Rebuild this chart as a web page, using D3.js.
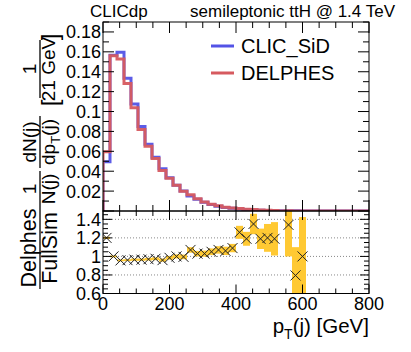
<!DOCTYPE html>
<html><head><meta charset="utf-8">
<script src="https://cdn.jsdelivr.net/npm/d3@7"></script>
<style>
html,body{margin:0;padding:0;background:#fff;}
svg{display:block;font-family:"Liberation Sans",Arial,Helvetica,sans-serif;}
</style></head>
<body>
<svg id="c" width="411" height="352"></svg>
<script>
// ---- data ----
const binEdgesMin = 0, binEdgesMax = 800, nBins = 38;
const sid = [0.0495,0.1565,0.1595,0.1335,0.1075,0.0850,0.0670,0.0540,0.0425,0.0335,
  0.0258,0.0200,0.0152,0.0118,0.0088,0.0066,0.0049,0.0036,0.0027,0.0020,
  0.0015,0.0011,0.0008,0.0006,0.00045,0.0003,0.0002,0.00015,0.0001,0,
  0,0,0,0,0,0,0,0];
const delphes = [0.0595,0.1560,0.1527,0.1282,0.1037,0.0820,0.0650,0.0527,0.0408,0.0330,
  0.0258,0.0199,0.0163,0.0122,0.0091,0.0069,0.0052,0.0038,0.0029,0.0025,
  0.0018,0.0015,0.00095,0.0007,0.00054,0,0.00027,0.00012,0.0001,0,
  0,0,0,0,0,0,0,0];
const ratio = [1.20,1.00,0.957,0.96,0.965,0.965,0.97,0.975,0.96,0.985,
  1.00,0.995,1.07,1.03,1.03,1.05,1.07,1.06,1.09,1.26,
  1.19,1.35,1.19,1.20,1.19,null,1.34,0.795,1.00,null,
  null,null,null,null,null,null,null,null];
const ratioErr = [0.012,0.01,0.01,0.01,0.012,0.012,0.014,0.015,0.017,0.02,
  0.022,0.025,0.03,0.03,0.033,0.036,0.04,0.045,0.045,0.07,
  0.075,0.11,0.11,0.15,0.18,null,0.34,0.305,0.425,null,
  null,null,null,null,null,null,null,null];
const xTicksMajor = [0,200,400,600,800];
const yTopTicks = [0.02,0.04,0.06,0.08,0.1,0.12,0.14,0.16,0.18];
const yTopTickLabels = ["0.02","0.04","0.06","0.08","0.1","0.12","0.14","0.16","0.18"];
const yRatioTicks = [0.6,0.8,1.0,1.2,1.4];
const yRatioTickLabels = ["0.6","0.8","1","1.2","1.4"];
const seriesNames = ["CLIC_SiD","DELPHES"];
const seriesColors = ["#5353e6","#d65a5f"];

// ---- layout ----
const L = 103, R = 369, T = 22, M = 211, B = 293.5;
const svg = d3.select("#c");
const x = d3.scaleLinear().domain([binEdgesMin, binEdgesMax]).range([L, R]);
const yT = d3.scaleLinear().domain([0, 0.19]).range([M, T]);
const yR = d3.scaleLinear().domain([0.6, 1.49]).range([B, M]);
const bw = (binEdgesMax - binEdgesMin) / nBins;
const edge = i => binEdgesMin + i * bw;

const defs = svg.append("defs");
defs.append("clipPath").attr("id","cpT").append("rect").attr("x",L).attr("y",T).attr("width",R-L).attr("height",M-T);
defs.append("clipPath").attr("id","cpR").append("rect").attr("x",L).attr("y",M).attr("width",R-L).attr("height",B-M);

// ---- top histograms ----
function stepPath(vals){
  let p = [[x(edge(0)), yT(0)]];
  vals.forEach((v,i)=>{ p.push([x(edge(i)), yT(v)]); p.push([x(edge(i+1)), yT(v)]); });
  p.push([x(edge(vals.length)), yT(0)]);
  return d3.line()(p);
}
const gT = svg.append("g").attr("clip-path","url(#cpT)");
[sid, delphes].forEach((vals,k)=>{
  gT.append("path").attr("d", stepPath(vals)).attr("fill","none")
    .attr("stroke", seriesColors[k]).attr("stroke-width",3).attr("stroke-opacity",0.95)
    .attr("stroke-linejoin","miter");
});

// ---- ratio panel ----
const gR = svg.append("g").attr("clip-path","url(#cpR)");
yRatioTicks.filter(v=>v>0.7).forEach(v=>{
  gR.append("line").attr("x1",L).attr("x2",R).attr("y1",yR(v)).attr("y2",yR(v))
    .attr("stroke","#888").attr("stroke-width",1).attr("stroke-dasharray","1,2");
});
ratio.forEach((r,i)=>{
  if(r==null) return;
  const e = ratioErr[i];
  gR.append("rect").attr("x", x(edge(i))).attr("width", x(edge(i+1))-x(edge(i)))
    .attr("y", yR(r+e)).attr("height", yR(r-e)-yR(r+e)).attr("fill","#ffc933");
});
ratio.forEach((r,i)=>{
  if(r==null) return;
  const cx = x(edge(i)+bw/2), cy = yR(r), s = 5;
  gR.append("path").attr("d",`M${cx-s},${cy-s}L${cx+s},${cy+s}M${cx-s},${cy+s}L${cx+s},${cy-s}`)
    .attr("stroke","#222").attr("stroke-width",1).attr("fill","none");
});

// ---- frames & axes ----
function frame(y0,y1){
  svg.append("rect").attr("x",L).attr("y",y0).attr("width",R-L).attr("height",y1-y0)
    .attr("fill","none").attr("stroke","#000").attr("stroke-width",1);
}
frame(T,M); frame(M,B);

function xTicks(y0,y1,maj,minr){
  for(let v=0; v<=800; v+=50){
    const isMaj = v%200===0, len = isMaj?maj:minr;
    svg.append("line").attr("x1",x(v)).attr("x2",x(v)).attr("y1",y1).attr("y2",y1-len).attr("stroke","#000");
    svg.append("line").attr("x1",x(v)).attr("x2",x(v)).attr("y1",y0).attr("y2",y0+len).attr("stroke","#000");
  }
}
xTicks(T,M,11,6);
xTicks(M,B,9,5);

function yTicks(scale, lo, hi, step, majStep, maj, minr){
  const n = Math.round((hi-lo)/step);
  for(let k=0;k<=n;k++){
    const v = lo + k*step;
    const isMaj = Math.abs(v/majStep - Math.round(v/majStep))<1e-6;
    const len = isMaj?maj:minr;
    const yy = scale(v);
    svg.append("line").attr("x1",L).attr("x2",L+len).attr("y1",yy).attr("y2",yy).attr("stroke","#000");
    svg.append("line").attr("x1",R).attr("x2",R-len).attr("y1",yy).attr("y2",yy).attr("stroke","#000");
  }
}
yTicks(yT, 0, 0.19, 0.01, 0.02, 11, 6);
yTicks(yR, 0.6, 1.45, 0.05, 0.2, 9, 5);

const fs = 18;
yTopTicks.forEach((v,i)=>{
  svg.append("text").attr("x",L-2).attr("y",yT(v)).attr("dy","0.36em").attr("text-anchor","end")
    .attr("font-size",fs).text(yTopTickLabels[i]);
});
yRatioTicks.forEach((v,i)=>{
  svg.append("text").attr("x",L-2).attr("y",yR(v)).attr("dy","0.36em").attr("text-anchor","end")
    .attr("font-size",fs).text(yRatioTickLabels[i]);
});
xTicksMajor.forEach(v=>{
  svg.append("text").attr("x",x(v)).attr("y",310).attr("text-anchor","middle")
    .attr("font-size",fs).text(v);
});

// x title
const xt = svg.append("text").attr("x",R).attr("y",333).attr("text-anchor","end").attr("font-size",20.5);
xt.append("tspan").text("p");
xt.append("tspan").attr("font-size",14).attr("dy",6).text("T");
xt.append("tspan").attr("dy",-6).text("(j) [GeV]");

// header
svg.append("text").attr("x",90).attr("y",17).attr("font-size",17).text("CLICdp");
svg.append("text").attr("x",395).attr("y",17).attr("text-anchor","end").attr("font-size",17).text("semileptonic ttH @ 1.4 TeV");

// legend
[0,1].forEach(k=>{
  const ly = [46,73][k];
  svg.append("line").attr("x1",211).attr("x2",234).attr("y1",ly).attr("y2",ly)
    .attr("stroke",seriesColors[k]).attr("stroke-width",3);
  svg.append("text").attr("x",241).attr("y",ly).attr("dy","0.36em").attr("font-size",20).text(seriesNames[k]);
});

// y titles (rotated)
function frac(cx, cyScreen, num, den, barLen, fsz){
  const g = svg.append("g").attr("transform",`translate(${cx},${cyScreen}) rotate(-90)`);
  g.append("line").attr("x1",-barLen/2).attr("x2",barLen/2).attr("y1",0).attr("y2",0).attr("stroke","#000").attr("stroke-width",1.3);
  const tn = g.append("text").attr("x",0).attr("y",-4).attr("text-anchor","middle").attr("font-size",fsz);
  num(tn);
  const td = g.append("text").attr("x",0).attr("y",fsz*0.8).attr("text-anchor","middle").attr("font-size",fsz);
  den(td);
  return g;
}
frac(40,189,t=>t.text("1"),t=>t.text("N(j)"),36,19);
frac(40,142,t=>t.text("dN(j)"),t=>{t.append("tspan").text("dp");t.append("tspan").attr("font-size",13).attr("dy",5).text("T");t.append("tspan").attr("dy",-5).text("(j)");},52,19);
{
  const g = svg.append("g").attr("transform",`translate(40,0) rotate(-90)`);
  g.append("text").attr("x",-103).attr("y",18).attr("font-size",24).attr("text-anchor","middle").text("[");
  g.append("text").attr("x",-37).attr("y",18).attr("font-size",24).attr("text-anchor","middle").text("]");
}
frac(40,69,t=>t.text("1"),t=>t.text("21 GeV"),58,19);
frac(40,248,t=>t.text("Delphes"),t=>t.text("FullSim"),82,21.5);
</script>
</body></html>
